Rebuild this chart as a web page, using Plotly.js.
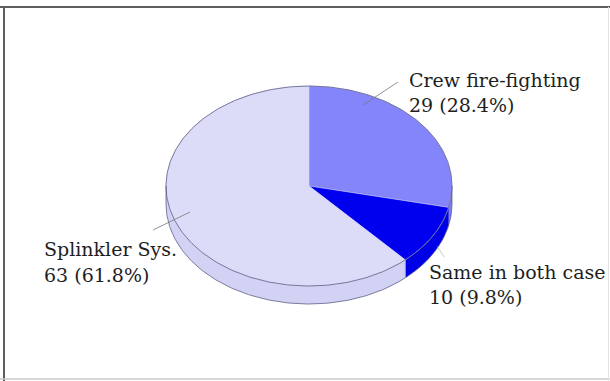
<!DOCTYPE html>
<html>
<head>
<meta charset="utf-8">
<script src="https://cdn.plot.ly/plotly-3.0.1.min.js"></script>
<style>html,body{margin:0;padding:0;background:#fff;}#chart{width:610px;height:381px;}</style>
</head>
<body>
<div id="chart"></div>
<script>
// ---- data ----
const labels = ['Crew fire-fighting', 'Same in both case', 'Splinkler Sys.'];
const values = [29, 10, 63];
const topColors = ['#8484fb', '#0000ee', '#dcdcf8'];
const sideColors = ['#7c7cf4', '#0000e6', '#d2d2f4'];

// ---- geometry (layout only) ----
const cx = 309, cy = 186, rx = 143, ry = 100, depth = 18;
const labelPos = [[407, 80, 105], [427, 272, 297], [42, 249, 275]];
const total = values.reduce((a, b) => a + b, 0);

function pt(th, dy) {
  const r = th * Math.PI / 180;
  return [cx + rx * Math.cos(r), cy - ry * Math.sin(r) + dy];
}
function arc(a, b, dy) {
  const xs = [], ys = [];
  const n = Math.max(2, Math.ceil(Math.abs(b - a)));
  for (let i = 0; i <= n; i++) {
    const p = pt(a + (b - a) * i / n, dy);
    xs.push(p[0]); ys.push(p[1]);
  }
  return [xs, ys];
}

const traces = [];
const starts = [], ends = [];
let cum = 0;
values.forEach((v, i) => {
  starts.push(90 - 360 * cum / total);
  cum += v;
  ends.push(90 - 360 * cum / total);
});

// sides
values.forEach((v, i) => {
  const hi = Math.min(starts[i], 0), lo = Math.max(ends[i], -180);
  if (hi <= lo) return;
  const t = arc(hi, lo, 0), b = arc(lo, hi, depth);
  traces.push({
    type: 'scatter', mode: 'lines', x: t[0].concat(b[0]), y: t[1].concat(b[1]),
    fill: 'toself', fillcolor: sideColors[i], line: {width: 0}, hoverinfo: 'skip', showlegend: false
  });
});
// tops
values.forEach((v, i) => {
  const a = arc(starts[i], ends[i], 0);
  traces.push({
    type: 'scatter', mode: 'lines', x: [cx].concat(a[0], [cx]), y: [cy].concat(a[1], [cy]),
    fill: 'toself', fillcolor: topColors[i], line: {width: 0.6, color: 'rgba(200,200,240,0.8)'},
    hoverinfo: 'skip', showlegend: false
  });
});
// outlines
const outline = 'rgba(90,90,130,0.85)';
const full = arc(-180, 180, 0);
traces.push({type: 'scatter', mode: 'lines', x: full[0], y: full[1], line: {width: 0.9, color: outline}, hoverinfo: 'skip', showlegend: false});
const bot = arc(-180, 0, depth);
traces.push({type: 'scatter', mode: 'lines', x: bot[0], y: bot[1], line: {width: 0.9, color: outline}, hoverinfo: 'skip', showlegend: false});
[-180, 0].forEach(th => {
  const p = pt(th, 0);
  traces.push({type: 'scatter', mode: 'lines', x: [p[0], p[0]], y: [p[1], p[1] + depth], line: {width: 0.9, color: outline}, hoverinfo: 'skip', showlegend: false});
});
// seam between blue side and light side
(function () {
  const p = pt(ends[1], 0);
  traces.push({type: 'scatter', mode: 'lines', x: [p[0], p[0]], y: [p[1], p[1] + depth], line: {width: 0.8, color: 'rgba(150,150,200,0.9)'}, hoverinfo: 'skip', showlegend: false});
})();

// labels
const annotations = [];
const font = {family: 'DejaVu Serif', size: 19, color: '#1e1e1e'};
values.forEach((v, i) => {
  const pct = (v / total * 100).toFixed(1) + '%';
  annotations.push({x: labelPos[i][0], y: labelPos[i][1], xref: 'x', yref: 'y', text: labels[i], showarrow: false, xanchor: 'left', yanchor: 'middle', font: font});
  annotations.push({x: labelPos[i][0], y: labelPos[i][2], xref: 'x', yref: 'y', text: v + ' (' + pct + ')', showarrow: false, xanchor: 'left', yanchor: 'middle', font: font});
});

const lead = 'rgba(120,120,120,0.8)';
const shapes = [
  // leader lines
  {type: 'line', xref: 'x', yref: 'y', x0: 363, y0: 105, x1: 398, y1: 82, line: {color: lead, width: 1}},
  {type: 'line', xref: 'x', yref: 'y', x0: 190, y0: 212, x1: 153, y1: 230, line: {color: lead, width: 1}},
  {type: 'line', xref: 'x', yref: 'y', x0: 437, y0: 246, x1: 444, y1: 257, line: {color: 'rgba(160,170,150,0.6)', width: 1}},
  // frame
  {type: 'line', xref: 'paper', yref: 'paper', x0: 0, x1: 1, y0: 1 - 7 / 381, y1: 1 - 7 / 381, line: {color: '#5e5e5e', width: 2}},
  {type: 'line', xref: 'paper', yref: 'paper', x0: 4 / 610, x1: 4 / 610, y0: 0, y1: 1 - 6 / 381, line: {color: '#5e5e5e', width: 2}},
  {type: 'line', xref: 'paper', yref: 'paper', x0: 0, x1: 1, y0: 2 / 381, y1: 2 / 381, line: {color: '#c8c8c8', width: 1.5}},
  {type: 'line', xref: 'paper', yref: 'paper', x0: 608.5 / 610, x1: 608.5 / 610, y0: 0, y1: 1 - 7 / 381, line: {color: '#e2e2e2', width: 1}}
];

const layout = {
  width: 610, height: 381,
  margin: {l: 0, r: 0, t: 0, b: 0, pad: 0},
  paper_bgcolor: '#ffffff', plot_bgcolor: '#ffffff',
  xaxis: {range: [0, 610], visible: false, fixedrange: true},
  yaxis: {range: [381, 0], visible: false, fixedrange: true},
  showlegend: false,
  annotations: annotations,
  shapes: shapes
};

Plotly.newPlot('chart', traces, layout, {staticPlot: true, displayModeBar: false});
</script>
</body>
</html>
